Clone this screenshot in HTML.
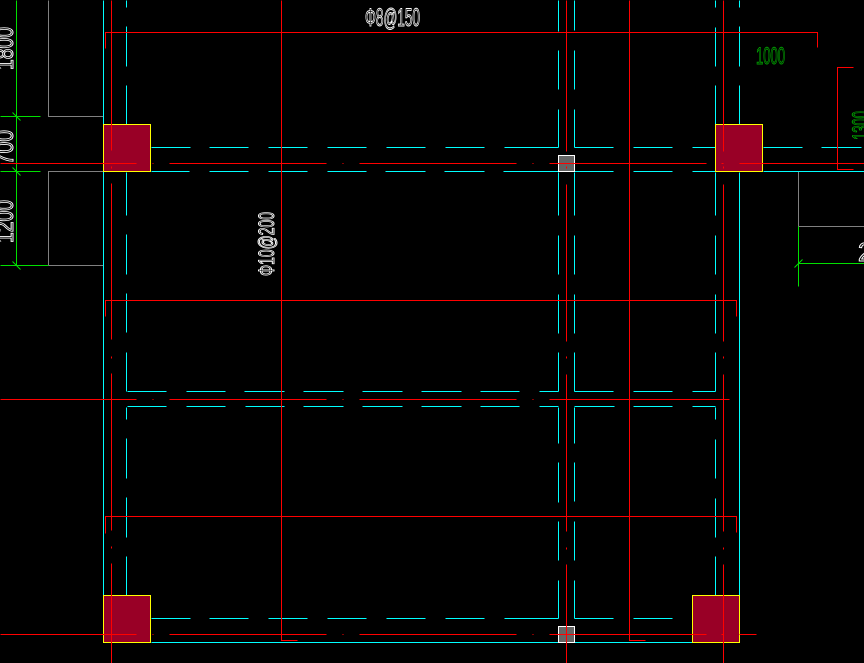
<!DOCTYPE html>
<html><head><meta charset="utf-8"><style>
html,body{margin:0;padding:0;background:#000;width:864px;height:663px;overflow:hidden}
svg{display:block}
text{font-family:"Liberation Sans",sans-serif;fill:none;stroke-width:1}
</style></head><body>
<svg width="864" height="663" viewBox="0 0 864 663" xmlns="http://www.w3.org/2000/svg">
<rect width="864" height="663" fill="#000"/>
<g transform="translate(.5,.5)" fill="none" stroke-width="1" shape-rendering="crispEdges">
<!-- gray -->
<path stroke="#808080" d="M48 0V116H103M103 171H48V265H103M798 171V226H864"/>
<!-- green -->
<path stroke="#00e000" d="M16 0V265M0 116H40M0 171H40M0 265H48M798 226V286M798 263H864"/>
<path stroke="#00e000" shape-rendering="auto" d="M12 112L20 120M12 167L20 175M12 261L20 269M794 267L802 259"/>
<!-- cyan verticals -->
<path stroke="#00ffff" d="M103 0V642M739 172V642
M126 0V7M126 26V66M126 85V124M126 172V215M126 234V274M126 293V332M126 352V391M126 407V419M126 438V478M126 497V537M126 556V595
M715 0V7M715 27V66M715 85V124M715 172V215M715 235V274M715 294V333M715 352V391M715 407V419M715 439V478M715 498V537M715 556V595
M739 0V7M739 26V66M739 85V124
M558 0V31M558 50V89M558 109V147M558 172V215M558 235V274M558 294V333M558 352V391M558 407V443M558 462V502M558 521V560M558 580V618
M574 0V30M574 50V89M574 109V147M574 172V215M574 235V274M574 294V333M574 352V391M574 407V443M574 462V501M574 521V560M574 580V618"/>
<!-- cyan horizontals -->
<path stroke="#00ffff" d="M151 147H190M209 147H248M268 147H307M327 147H366M386 147H425M445 147H484M504 147H558M574 147H613M633 147H672M692 147H715M763 147H802M821 147H861
M151 171H189M209 171H248M268 171H307M327 171H366M385 171H425M444 171H484M503 171H558M574 171H613M633 171H672M692 171H715M763 171H864
M127 391H166M186 391H225M244 391H284M303 391H343M362 391H402M421 391H461M480 391H519M539 391H558M574 391H613M633 391H672M692 391H715
M127 406H166M186 406H225M245 406H284M303 406H343M362 406H402M421 406H461M480 406H519M539 406H558M574 406H614M633 406H672M692 406H715
M151 618H190M209 618H248M268 618H307M327 618H366M386 618H425M445 618H484M504 618H558M574 618H613M633 618H672
M151 642H692"/>
</g>
<!-- columns -->
<g shape-rendering="crispEdges" fill="#990026" stroke="#ffff00" stroke-width="1">
<rect x="103.5" y="124.5" width="47" height="47"/>
<rect x="715.5" y="124.5" width="47" height="47"/>
<rect x="103.5" y="595.5" width="47" height="47"/>
<rect x="692.5" y="595.5" width="47" height="47"/>
<rect x="558.5" y="155.5" width="16" height="16" fill="#646464" stroke="#ffffff"/>
<rect x="558.5" y="626.5" width="16" height="16" fill="#646464" stroke="#ffffff"/>
</g>
<g transform="translate(.5,.5)" fill="none" stroke="#ff0000" stroke-width="1" shape-rendering="crispEdges">
<!-- red verticals -->
<path d="M111 0V150M111 166V168M111 183V339M111 356V358M111 373V530M111 546V548M111 563V663
M566 0V151M566 166V168M566 184V341M566 356V358M566 374V531M566 547V549M566 564V663
M723 0V151M723 166V168M723 184V341M723 356V358M723 374V531M723 547V549M723 564V663
M281 0V640H297M629 0V640H645"/>
<!-- red stirrup lines -->
<path d="M105 48V32H817V47M105 316V300H736V316M105 533V516H736V532M853 67H837V169H853"/>
<!-- red axes -->
<path d="M0 163H136M152 163H153M169 163H326M342 163H343M359 163H516M532 163H533M549 163H706M721 163H723M739 163H864
M0 399H136M152 399H153M169 399H326M342 399H343M359 399H516M532 399H533M549 399H729
M0 634H136M152 634H153M169 634H326M342 634H343M359 634H516M532 634H533M549 634H706M721 634H723M739 634H756"/>
</g>
<!-- text -->
<text x="365" y="26" font-size="25" stroke="#fff" textLength="55" lengthAdjust="spacingAndGlyphs">Φ8@150</text>
<text transform="translate(274,276) rotate(-90)" font-size="22" stroke="#fff" textLength="64" lengthAdjust="spacingAndGlyphs">Φ10@200</text>
<text x="756" y="64" font-size="24" stroke="#00a000" textLength="29" lengthAdjust="spacingAndGlyphs">1000</text>
<text transform="translate(869,140) rotate(-90)" font-size="24" stroke="#00a000" textLength="29" lengthAdjust="spacingAndGlyphs">1300</text>
<text transform="translate(13,70) rotate(-90)" font-size="25" stroke="#fff" textLength="43" lengthAdjust="spacingAndGlyphs">1800</text>
<text transform="translate(13,165) rotate(-90)" font-size="25" stroke="#fff" textLength="35" lengthAdjust="spacingAndGlyphs">700</text>
<text transform="translate(13,243) rotate(-90)" font-size="25" stroke="#fff" textLength="43" lengthAdjust="spacingAndGlyphs">1200</text>
<text x="858" y="261" font-size="26" stroke="#fff" textLength="14" lengthAdjust="spacingAndGlyphs">2</text>
</svg>
</body></html>
